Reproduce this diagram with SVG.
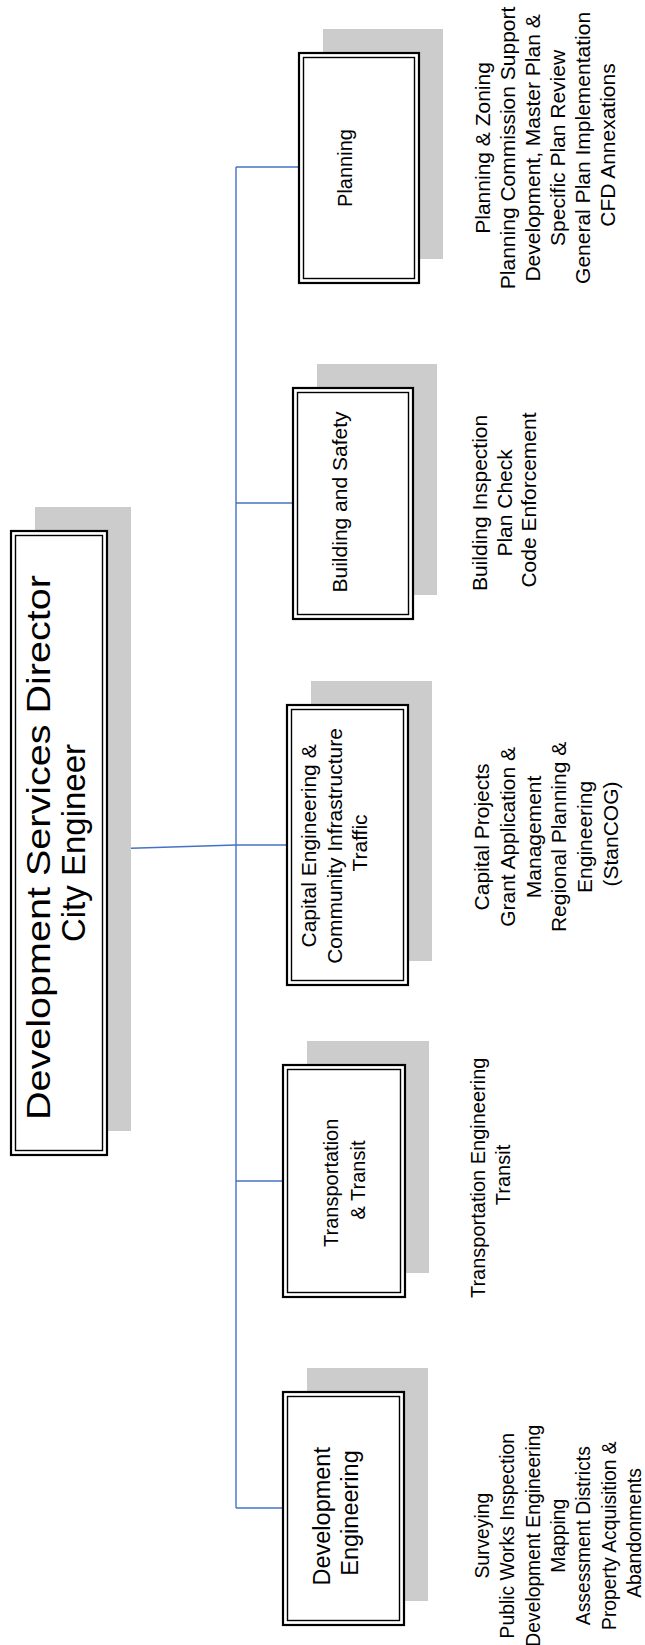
<svg xmlns="http://www.w3.org/2000/svg" width="645" height="1645" viewBox="0 0 645 1645">
  <style>
    .shadow { fill: #cccccc; stroke: none; }
    .outer { fill: #ffffff; stroke: #000000; stroke-width: 2.2; }
    .inner { fill: none; stroke: #000000; stroke-width: 1.4; }
    .link { fill: none; stroke: #4472c4; stroke-width: 1.4; }
    text { font-family: "Liberation Sans", Arial, sans-serif; fill: #000000; text-anchor: middle; }
  </style>
  <rect width="645" height="1645" fill="#ffffff"/>

  <!-- connectors -->
  <g id="connectors">
    <line class="link" x1="107" y1="849" x2="236" y2="845"/>
    <line class="link" x1="236" y1="167" x2="236" y2="1508"/>
    <line class="link" x1="236" y1="167" x2="299" y2="167"/>
    <line class="link" x1="236" y1="503" x2="293" y2="503"/>
    <line class="link" x1="236" y1="845" x2="287" y2="845"/>
    <line class="link" x1="236" y1="1181" x2="283" y2="1181"/>
    <line class="link" x1="236" y1="1508" x2="283" y2="1508"/>
  </g>

  <!-- top-level node -->
  <g id="director">
    <rect class="shadow" x="35" y="507" width="96" height="624"/>
    <rect class="outer" x="11" y="531" width="96" height="624"/>
    <rect class="inner" x="15.5" y="535.5" width="87" height="615"/>
    <text transform="translate(50,843) rotate(-90)" font-size="33">
      <tspan x="0" dy="0" textLength="545" lengthAdjust="spacingAndGlyphs">Development Services Director</tspan>
      <tspan x="0" dy="35">City Engineer</tspan>
    </text>
  </g>

  <!-- divisions -->
  <g id="planning">
    <rect class="shadow" x="323" y="29" width="120" height="230"/>
    <rect class="outer" x="299" y="53" width="120" height="230"/>
    <rect class="inner" x="303.5" y="57.5" width="111" height="221"/>
    <text transform="translate(352,168) rotate(-90)" font-size="20">Planning</text>
    <text transform="translate(490,145) rotate(-90)" font-size="21">
      <tspan x="0" dy="0">Planning &amp; Zoning</tspan>
      <tspan x="0" dy="25">Planning Commission Support</tspan>
      <tspan x="0" dy="25">Development, Master Plan &amp;</tspan>
      <tspan x="0" dy="25">Specific Plan Review</tspan>
      <tspan x="0" dy="25">General Plan Implementation</tspan>
      <tspan x="0" dy="25">CFD Annexations</tspan>
    </text>
  </g>

  <g id="building">
    <rect class="shadow" x="317" y="364" width="120" height="231"/>
    <rect class="outer" x="293" y="388" width="120" height="231"/>
    <rect class="inner" x="297.5" y="392.5" width="111" height="222"/>
    <text transform="translate(347,502) rotate(-90)" font-size="21">Building and Safety</text>
    <text transform="translate(487,500) rotate(-90)" font-size="21">
      <tspan x="0" dy="0">Building Inspection</tspan>
      <tspan x="0" dy="24.5">Plan Check</tspan>
      <tspan x="0" dy="24.5">Code Enforcement</tspan>
    </text>
  </g>

  <g id="capital">
    <rect class="shadow" x="311" y="681" width="121" height="280"/>
    <rect class="outer" x="287" y="705" width="121" height="280"/>
    <rect class="inner" x="291.5" y="709.5" width="112" height="271"/>
    <text transform="translate(316,843) rotate(-90)" font-size="21">
      <tspan x="0" dy="0">Capital Engineering &amp;</tspan>
      <tspan x="0" dy="25.5">Community Infrastructure</tspan>
      <tspan x="0" dy="25.5">Traffic</tspan>
    </text>
    <text transform="translate(489,834) rotate(-90)" font-size="21">
      <tspan x="0" dy="0">Capital Projects</tspan>
      <tspan x="0" dy="25.8">Grant Application &amp;</tspan>
      <tspan x="0" dy="25.8">Management</tspan>
      <tspan x="0" dy="25.8">Regional Planning &amp;</tspan>
      <tspan x="0" dy="25.8">Engineering</tspan>
      <tspan x="0" dy="25.8">(StanCOG)</tspan>
    </text>
  </g>

  <g id="transportation">
    <rect class="shadow" x="307" y="1041" width="122" height="232"/>
    <rect class="outer" x="283" y="1065" width="122" height="232"/>
    <rect class="inner" x="287.5" y="1069.5" width="113" height="223"/>
    <text transform="translate(338,1180) rotate(-90)" font-size="20">
      <tspan x="0" dy="0">Transportation</tspan>
      <tspan x="0" dy="27">&amp; Transit</tspan>
    </text>
    <text transform="translate(485,1175) rotate(-90)" font-size="20">
      <tspan x="0" dy="0">Transportation Engineering</tspan>
      <tspan x="0" dy="25">Transit</tspan>
    </text>
  </g>

  <g id="development-engineering">
    <rect class="shadow" x="307" y="1368" width="121" height="233"/>
    <rect class="outer" x="283" y="1392" width="121" height="233"/>
    <rect class="inner" x="287.5" y="1396.5" width="112" height="224"/>
    <text transform="translate(330,1513) rotate(-90)" font-size="23.5">
      <tspan x="0" dy="0">Development</tspan>
      <tspan x="0" dy="28">Engineering</tspan>
    </text>
    <text transform="translate(489,1533) rotate(-90)" font-size="19.3">
      <tspan x="0" dy="0">Surveying</tspan>
      <tspan x="0" dy="25.3">Public Works Inspection</tspan>
      <tspan x="0" dy="25.3">Development Engineering</tspan>
      <tspan x="0" dy="25.3">Mapping</tspan>
      <tspan x="0" dy="25.3">Assessment Districts</tspan>
      <tspan x="0" dy="25.3">Property Acquisition &amp;</tspan>
      <tspan x="0" dy="25.3">Abandonments</tspan>
    </text>
  </g>
</svg>
